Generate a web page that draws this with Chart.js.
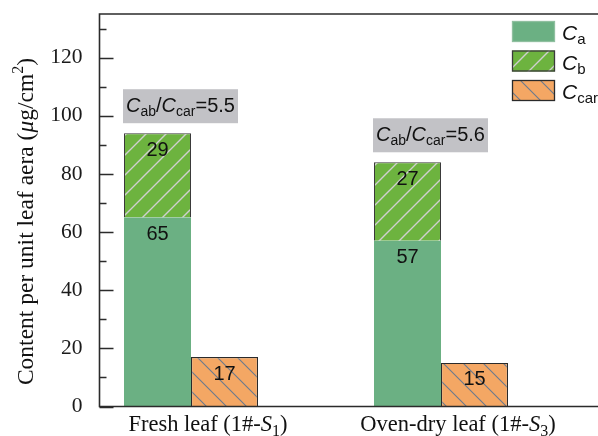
<!DOCTYPE html>
<html>
<head>
<meta charset="utf-8">
<script src="https://cdn.jsdelivr.net/npm/chart.js@4/dist/chart.umd.min.js"></script>
<style>
  html, body { margin: 0; padding: 0; background: #fff; }
  #wrap { width: 598px; height: 436px; }
</style>
</head>
<body>
<div id="wrap"><canvas id="c" width="598" height="436"></canvas></div>
<script>
// Pigment content per unit leaf area (µg/cm²)
const categories = ['Fresh leaf', 'Oven-dry leaf'];
const sampleSubs = ['1', '3'];          // subscript of the sample id S
const caValues = [65, 57];              // chlorophyll a
const cbValues = [29, 27];              // chlorophyll b
const ccarValues = [17, 15];            // carotenoids
const ratioLabels = ['5.5', '5.6'];     // C_ab / C_car
const yTickValues = [0, 20, 40, 60, 80, 100, 120];
const yMinorValues = [10, 30, 50, 70, 90, 110, 130];
const yMax = 135;

const SANS = 'Liberation Sans';
const SERIF = 'Liberation Serif';

const COLOR_CA = '#6bb083';
const COLOR_CB = '#6db33f';
const COLOR_CAR = '#f4a764';

// Diagonal hatch fill; dir > 0 draws '/', dir < 0 draws '\'
function hatch(bg, line, lw, dir) {
  const s = 20;
  const c = document.createElement('canvas');
  c.width = s; c.height = s;
  const g = c.getContext('2d');
  g.fillStyle = bg;
  g.fillRect(0, 0, s, s);
  g.strokeStyle = line;
  g.lineWidth = lw;
  g.beginPath();
  if (dir > 0) {
    g.moveTo(-2, 2); g.lineTo(2, -2);
    g.moveTo(0, s); g.lineTo(s, 0);
    g.moveTo(s - 2, s + 2); g.lineTo(s + 2, s - 2);
  } else {
    g.moveTo(-2, s - 2); g.lineTo(2, s + 2);
    g.moveTo(0, 0); g.lineTo(s, s);
    g.moveTo(s - 2, -2); g.lineTo(s + 2, 2);
  }
  g.stroke();
  return g.createPattern(c, 'repeat');
}

const ctx0 = document.getElementById('c').getContext('2d');
const fillCb = hatch(COLOR_CB, '#cfcfcf', 1.4, 1);
const fillCar = hatch(COLOR_CAR, '#6a7a8e', 1.1, -1);

// Rich text: italic, subscript and superscript runs
function segFont(s, size, family) {
  const sz = (s.sub || s.sup) ? Math.round(size * 0.7) : size;
  return (s.i ? 'italic ' : '') + sz + 'px "' + family + '"';
}
function drawRich(ctx, segs, x, y, align, size, family) {
  let w = 0;
  for (const s of segs) { ctx.font = segFont(s, size, family); w += ctx.measureText(s.t).width; }
  let cx = align === 'center' ? x - w / 2 : (align === 'right' ? x - w : x);
  ctx.textAlign = 'left';
  ctx.textBaseline = 'alphabetic';
  for (const s of segs) {
    ctx.font = segFont(s, size, family);
    const dy = s.sub ? size * 0.2 : (s.sup ? -size * 0.4 : 0);
    ctx.fillText(s.t, cx, y + dy);
    cx += ctx.measureText(s.t).width;
  }
}

const legendItems = [
  { sub: 'a', fill: COLOR_CA, border: '#8fbf9f' },
  { sub: 'b', fill: fillCb, border: '#3a3a3a' },
  { sub: 'car', fill: fillCar, border: '#2a2a2a' }
];

const decorations = {
  id: 'decorations',
  afterDatasetsDraw(chart) {
    const { ctx, chartArea: a, scales: { x, y } } = chart;
    ctx.save();

    // value labels inside the bars
    ctx.fillStyle = '#111';
    ctx.font = '20px "' + SANS + '"';
    ctx.textAlign = 'center';
    ctx.textBaseline = 'alphabetic';
    chart.data.datasets.forEach((ds, di) => {
      chart.getDatasetMeta(di).data.forEach((el, i) => {
        ctx.fillText(String(ds.data[i].y), el.x, el.y + 22.5);
      });
    });

    // ratio boxes above each stacked column
    const metaA = chart.getDatasetMeta(0), metaB = chart.getDatasetMeta(1);
    ratioLabels.forEach((r, i) => {
      const ea = metaA.data[i], eb = metaB.data[i];
      const left = ea.x - ea.width / 2 - 1;
      const bottom = eb.y - 10;
      const w = 115, h = 34;
      ctx.fillStyle = '#c2c2c6';
      ctx.fillRect(left, bottom - h, w, h);
      ctx.fillStyle = '#111';
      drawRich(ctx, [
        { t: 'C', i: 1 }, { t: 'ab', sub: 1 }, { t: '/' },
        { t: 'C', i: 1 }, { t: 'car', sub: 1 }, { t: '=' + r }
      ], left + w / 2, bottom - 11, 'center', 20, SANS);
    });

    // axes frame
    ctx.strokeStyle = '#2b2b2b';
    ctx.lineWidth = 1.6;
    ctx.beginPath();
    ctx.moveTo(a.right + 2, a.top); ctx.lineTo(a.left, a.top);
    ctx.lineTo(a.left, a.bottom); ctx.lineTo(a.right + 2, a.bottom);
    ctx.stroke();

    // inward ticks on the y axis
    ctx.lineWidth = 1.4;
    ctx.beginPath();
    yTickValues.forEach(v => {
      const py = Math.round(y.getPixelForValue(v)) + 0.5;
      ctx.moveTo(a.left, py); ctx.lineTo(a.left + 14, py);
    });
    yMinorValues.forEach(v => {
      const py = Math.round(y.getPixelForValue(v)) + 0.5;
      ctx.moveTo(a.left, py); ctx.lineTo(a.left + 7, py);
    });
    ctx.stroke();

    // category labels
    ctx.fillStyle = '#111';
    categories.forEach((c, i) => {
      const px = x.getPixelForValue(i + 1) + 17;
      drawRich(ctx, [
        { t: c + ' (1#-' }, { t: 'S', i: 1 }, { t: sampleSubs[i], sub: 1 }, { t: ')' }
      ], px, 431, 'center', 22.5, SERIF);
    });

    // y axis title
    ctx.save();
    ctx.translate(32.5, 221.5);
    ctx.rotate(-Math.PI / 2);
    drawRich(ctx, [
      { t: 'Content per unit leaf aera (' }, { t: 'μ', i: 1 }, { t: 'g/cm' },
      { t: '2', sup: 1 }, { t: ')' }
    ], 0, 0, 'center', 23.5, SERIF);
    ctx.restore();

    // legend
    legendItems.forEach((it, k) => {
      const top = 21 + k * 29.5;
      ctx.fillStyle = it.fill;
      ctx.fillRect(512, top, 43, 21);
      ctx.strokeStyle = it.border;
      ctx.lineWidth = 1.3;
      ctx.strokeRect(512.5, top + 0.5, 42, 20);
      ctx.fillStyle = '#111';
      drawRich(ctx, [{ t: 'C', i: 1 }, { t: it.sub, sub: 1 }], 562, top + 19, 'left', 21, SANS);
    });

    ctx.restore();
  }
};

const toPoints = vals => vals.map((v, i) => ({ x: i + 1, y: v }));

new Chart(ctx0, {
  type: 'bar',
  data: {
    datasets: [
      { label: 'Ca', data: toPoints(caValues), stack: 'chl', backgroundColor: COLOR_CA, borderWidth: 0 },
      { label: 'Cb', data: toPoints(cbValues), stack: 'chl', backgroundColor: fillCb, borderColor: '#3a3a3a', borderWidth: 1 },
      { label: 'Ccar', data: toPoints(ccarValues), stack: 'car', backgroundColor: fillCar, borderColor: '#2a2a2a', borderWidth: 1.2 }
    ]
  },
  options: {
    responsive: false,
    devicePixelRatio: 1,
    animation: false,
    categoryPercentage: 0.536,
    barPercentage: 1,
    layout: { padding: { left: 0, right: 0, top: 14, bottom: 29.5 } },
    plugins: { legend: { display: false }, tooltip: { enabled: false } },
    scales: {
      x: {
        type: 'linear',
        offset: false,
        min: 0.634,
        max: 2.628,
        grid: { display: false, offset: false },
        border: { display: false },
        ticks: { display: false },
        afterBuildTicks: s => { s.ticks = [{ value: 1 }, { value: 2 }]; },
        afterFit: s => { s.height = 0; s.paddingLeft = 0; s.paddingRight = 0; }
      },
      y: {
        stacked: true,
        min: 0,
        max: yMax,
        grid: { display: false, drawTicks: false },
        border: { display: false },
        ticks: {
          stepSize: 20,
          includeBounds: false,
          padding: 17,
          color: '#1a1a1a',
          font: { family: SERIF, size: 21.5 },
          callback: v => (yTickValues.includes(v) ? String(v) : '')
        },
        afterFit: s => { s.width = 99.5; s.paddingTop = 0; s.paddingBottom = 0; }
      }
    }
  },
  plugins: [decorations]
});
</script>
</body>
</html>
